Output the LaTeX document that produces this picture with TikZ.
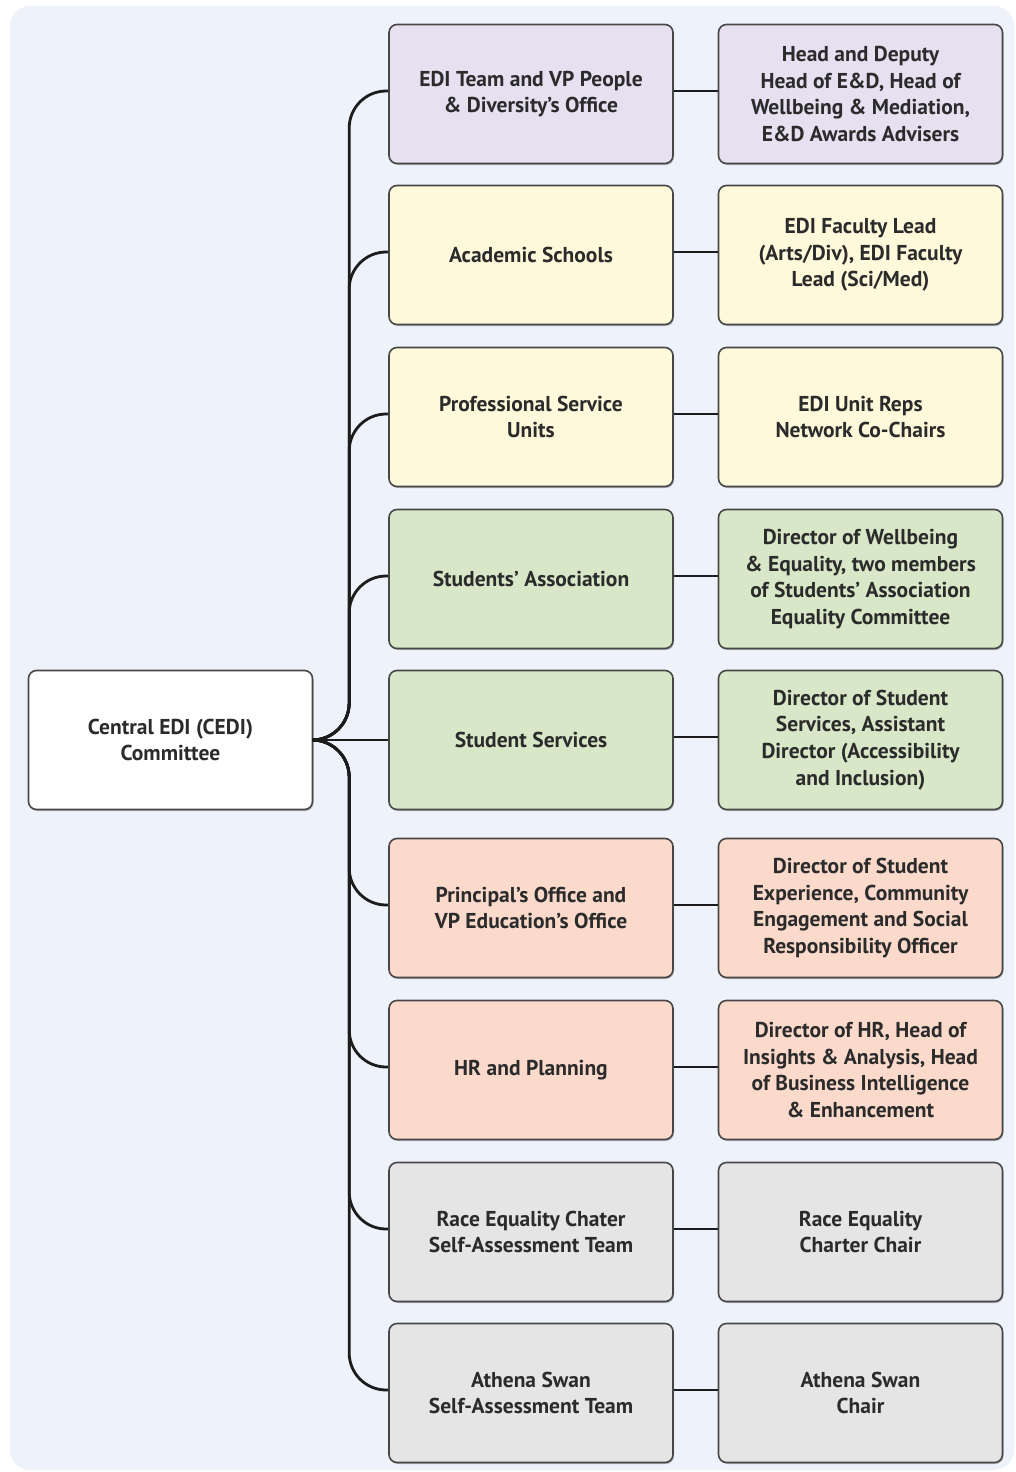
\documentclass[tikz,border=0pt]{standalone}
\usepackage{fontspec}
\setmainfont{PT Sans}
\usetikzlibrary{shadows}
\definecolor{bgblue}{HTML}{EEF3FB}
\definecolor{bordc}{HTML}{474747}
\definecolor{textc}{HTML}{2B2B2B}
\definecolor{linec}{HTML}{1C1C1C}
\definecolor{cpurple}{HTML}{E6E0F0}
\definecolor{cyellow}{HTML}{FEF9DA}
\definecolor{cgreen}{HTML}{D7E7C7}
\definecolor{csalmon}{HTML}{FBDACB}
\definecolor{cgrey}{HTML}{E5E5E5}
\tikzset{
  box/.style={draw=bordc, line width=1.6pt, rounded corners=8pt,
    minimum width=284pt, minimum height=139pt, align=center, inner sep=0pt,
    text=textc, font=\bfseries\fontsize{21.5}{26.7}\selectfont,
    drop shadow={shadow xshift=1pt, shadow yshift=-1.5pt, opacity=0.25, fill=black}},
  conn/.style={draw=linec, line width=2.8pt, rounded corners=37pt},
  flat/.style={draw=linec, line width=2.8pt}
}
\begin{document}
\begin{tikzpicture}[x=1pt,y=-1pt]
\useasboundingbox (0,0) rectangle (1016,1472);
\fill[white] (0,0) rectangle (1016,1472);
\fill[bgblue, rounded corners=20pt] (10,6) rectangle (1014,1470);

\node[box, fill=white] (cedi) at (170.5,740) {Central EDI (CEDI)\\Committee};

\node[box, fill=cpurple] (m1) at (531,94) {EDI Team and VP People\\\& Diversity’s Office};
\node[box, fill=cpurple] (r1) at (860.5,94) {Head and Deputy\\Head of E\&D, Head of\\Wellbeing \& Mediation,\\E\&D Awards Advisers};

\node[box, fill=cyellow] (m2) at (531,255) {Academic Schools};
\node[box, fill=cyellow] (r2) at (860.5,255) {EDI Faculty Lead\\(Arts/Div), EDI Faculty\\Lead (Sci/Med)};

\node[box, fill=cyellow] (m3) at (531,417) {Professional Service\\Units};
\node[box, fill=cyellow] (r3) at (860.5,417) {EDI Unit Reps\\Network Co-Chairs};

\node[box, fill=cgreen] (m4) at (531,579) {Students’ Association};
\node[box, fill=cgreen] (r4) at (860.5,579) {Director of Wellbeing\\\& Equality, two members\\of Students’ Association\\Equality Committee};

\node[box, fill=cgreen] (m5) at (531,740) {Student Services};
\node[box, fill=cgreen] (r5) at (860.5,740) {Director of Student\\Services, Assistant\\Director (Accessibility\\and Inclusion)};

\node[box, fill=csalmon] (m6) at (531,908) {Principal’s Office and\\VP Education’s Office};
\node[box, fill=csalmon] (r6) at (860.5,908) {Director of Student\\Experience, Community\\Engagement and Social\\Responsibility Officer};

\node[box, fill=csalmon] (m7) at (531,1070) {HR and Planning};
\node[box, fill=csalmon] (r7) at (860.5,1070) {Director of HR, Head of\\Insights \& Analysis, Head\\of Business Intelligence\\\& Enhancement};

\node[box, fill=cgrey] (m8) at (531,1232) {Race Equality Chater\\Self-Assessment Team};
\node[box, fill=cgrey] (r8) at (860.5,1232) {Race Equality\\Charter Chair};

\node[box, fill=cgrey] (m9) at (531,1393) {Athena Swan\\Self-Assessment Team};
\node[box, fill=cgrey] (r9) at (860.5,1393) {Athena Swan\\Chair};

\foreach \i in {1,2,3,4,6,7,8,9} {
  \draw[conn] (cedi.east) -| ([xshift=-39pt,yshift=3pt]m\i.west) -- ([yshift=3pt]m\i.west);
}
\draw[flat] (cedi.east) -- (m5.west);
\foreach \i in {1,...,9} {
  \draw[flat] ([yshift=3pt]m\i.east) -- ([yshift=3pt]r\i.west);
}
\end{tikzpicture}
\end{document}
